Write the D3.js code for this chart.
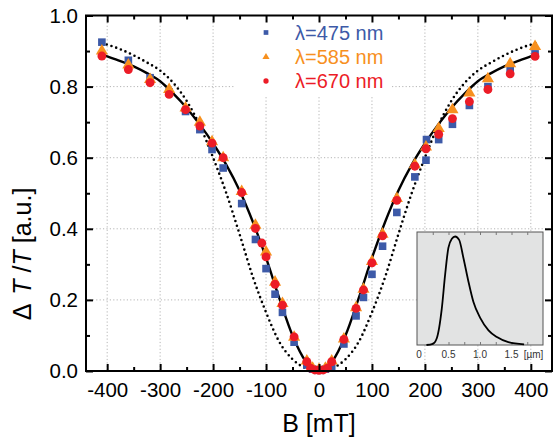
<!DOCTYPE html>
<html><head><meta charset="utf-8">
<script src="https://cdn.jsdelivr.net/npm/d3@7"></script>
<style>body{margin:0;background:#fff}svg{display:block;font-family:"Liberation Sans",Arial,sans-serif}</style>
</head><body><svg id="c" width="559" height="443"></svg>
<script>
// ---- data ----
const xTicks = [-400,-300,-200,-100,0,100,200,300,400];
const yTicks = [0.0,0.2,0.4,0.6,0.8,1.0];
const seriesNames = ["λ=475 nm","λ=585 nm","λ=670 nm"];
const B475 = [-410,-360,-319,-283,-252,-225,-202,-181,-146,-120,-100,-83,-69,-47,-23,-12,0,12,24,47,70,84,100,120,147,181,202,203,226,252,284,319,361,408];
const V475 = [0.925,0.874,0.825,0.785,0.730,0.679,0.623,0.571,0.471,0.370,0.288,0.216,0.165,0.081,0.017,0.005,0.002,0.005,0.012,0.076,0.155,0.207,0.272,0.351,0.446,0.546,0.593,0.651,0.651,0.694,0.747,0.800,0.846,0.892];
const B585 = [-410,-360,-319,-283,-252,-225,-202,-181,-146,-120,-100,-83,-69,-47,-23,-12,0,12,24,47,70,84,100,120,147,181,202,226,252,284,319,361,408];
const V585 = [0.900,0.861,0.820,0.792,0.740,0.700,0.645,0.600,0.505,0.410,0.335,0.250,0.190,0.095,0.028,0.008,0.004,0.008,0.028,0.090,0.178,0.230,0.308,0.385,0.485,0.580,0.630,0.682,0.735,0.782,0.822,0.864,0.913];
const B670 = [-410,-360,-319,-283,-252,-225,-202,-181,-146,-120,-108,-100,-83,-69,-47,-23,-16,-8,0,8,16,24,47,70,84,100,120,147,181,202,226,252,284,319,361,408];
const V670 = [0.886,0.848,0.811,0.778,0.735,0.689,0.641,0.600,0.502,0.401,0.360,0.321,0.244,0.185,0.096,0.026,0.008,0.003,0.002,0.003,0.008,0.026,0.089,0.176,0.228,0.304,0.380,0.480,0.576,0.625,0.666,0.710,0.758,0.792,0.836,0.885];
const curveB = [-410,-400,-375,-350,-325,-300,-275,-250,-225,-200,-175,-150,-125,-100,-75,-50,-25,0,25,50,75,100,125,150,175,200,225,250,275,300,325,350,375,400,410];
const solidV = [0.890,0.885,0.872,0.857,0.838,0.815,0.780,0.740,0.693,0.640,0.580,0.508,0.420,0.318,0.205,0.100,0.027,0,0.027,0.100,0.205,0.318,0.420,0.508,0.580,0.640,0.693,0.740,0.780,0.815,0.838,0.857,0.872,0.885,0.890];
const dottedV = [0.922,0.918,0.905,0.888,0.868,0.845,0.810,0.760,0.690,0.600,0.500,0.385,0.265,0.165,0.082,0.033,0.008,0,0.008,0.033,0.082,0.165,0.265,0.385,0.500,0.600,0.690,0.760,0.810,0.845,0.868,0.888,0.905,0.918,0.922];
const insetX = [0.15,0.25,0.314,0.393,0.446,0.498,0.553,0.605,0.669,0.737,0.817,0.896,1.003,1.135,1.269,1.45,1.7];
const insetY = [0,0.01,0.06,0.32,0.62,0.86,0.94,0.96,0.93,0.77,0.56,0.38,0.24,0.13,0.07,0.025,0.006];
const insetTickLabels = ["0","0.5","1.0","1.5"];
const insetTickVals = [0,0.5,1.0,1.5];

const colors = ["#3d5aa8","#f7901e","#ec1c27"];

// ---- chart ----
const svg = d3.select("#c");
const L=86, R=552, T=15.5, Bt=371;
const x = d3.scaleLinear().domain([-440,440]).range([L,R]);
const y = d3.scaleLinear().domain([0,1]).range([Bt,T]);

// grid
const grid = svg.append("g").attr("stroke","#b5b5b5").attr("stroke-width",1).attr("stroke-dasharray","1.2,2.2");
xTicks.forEach(t=>grid.append("line").attr("x1",x(t)).attr("x2",x(t)).attr("y1",T).attr("y2",Bt));
[0.2,0.4,0.6,0.8].forEach(t=>grid.append("line").attr("x1",L).attr("x2",R).attr("y1",y(t)).attr("y2",y(t)));

// legend background
svg.append("rect").attr("x",235).attr("y",T+1).attr("width",155).attr("height",80).attr("fill","#fff");

// inset
const ix = d3.scaleLinear().domain([0,2]).range([417,543]);
const iy = d3.scaleLinear().domain([0,1]).range([345,232]);
svg.append("rect").attr("x",417).attr("y",232).attr("width",126).attr("height",113).attr("fill","#e2e3e3").attr("stroke","#555").attr("stroke-width",1);
const iTop = d3.axisTop(ix).tickValues([0.25,0.5,0.75,1.0,1.25,1.5,1.75]).tickSizeInner(-3).tickSizeOuter(0).tickFormat("");
svg.append("g").attr("transform","translate(0,232)").call(iTop).call(g=>{g.select(".domain").remove();g.selectAll("line").attr("stroke","#777");});
const iBot = d3.axisBottom(ix).tickValues([0.25,0.5,0.75,1.0,1.25,1.5,1.75]).tickSizeInner(-3).tickSizeOuter(0).tickFormat("");
svg.append("g").attr("transform","translate(0,345)").call(iBot).call(g=>{g.select(".domain").remove();g.selectAll("line").attr("stroke","#777");});
svg.append("g").selectAll("text").data(insetTickVals).join("text")
  .attr("x",d=>ix(d)+ (d===0?2:0)).attr("y",358).attr("text-anchor","middle").attr("font-size",10).attr("fill","#333").text((d,i)=>insetTickLabels[i]);
svg.append("text").attr("x",ix(1.85)).attr("y",358).attr("text-anchor","middle").attr("font-size",10).attr("fill","#333").text("[µm]");
svg.append("path").datum(insetX.map((d,i)=>[d,insetY[i]]))
  .attr("d",d3.line().x(d=>ix(d[0])).y(d=>iy(d[1])).curve(d3.curveMonotoneX))
  .attr("fill","none").attr("stroke","#000").attr("stroke-width",1.8);

// curves
const line = d3.line().x(d=>x(d[0])).y(d=>y(d[1])).curve(d3.curveMonotoneX);
svg.append("path").datum(curveB.map((b,i)=>[b,dottedV[i]])).attr("d",line)
  .attr("fill","none").attr("stroke","#000").attr("stroke-width",2.6).attr("stroke-linecap","round").attr("stroke-dasharray","0,5");
svg.append("path").datum(curveB.map((b,i)=>[b,solidV[i]])).attr("d",line)
  .attr("fill","none").attr("stroke","#000").attr("stroke-width",2.4);

// points
const sq = d3.symbol().type(d3.symbolSquare).size(58);
const tri = d3.symbol().type(d3.symbolTriangle).size(64);
const cir = d3.symbol().type(d3.symbolCircle).size(62);
svg.append("g").selectAll("path").data(B475.map((b,i)=>[b,V475[i]])).join("path")
  .attr("transform",d=>`translate(${x(d[0])},${y(d[1])})`).attr("d",sq).attr("fill",colors[0]);
svg.append("g").selectAll("path").data(B585.map((b,i)=>[b,V585[i]])).join("path")
  .attr("transform",d=>`translate(${x(d[0])},${y(d[1])})`).attr("d",tri).attr("fill",colors[1]);
svg.append("g").selectAll("path").data(B670.map((b,i)=>[b,V670[i]])).join("path")
  .attr("transform",d=>`translate(${x(d[0])},${y(d[1])})`).attr("d",cir).attr("fill",colors[2]);

// legend
const legY=[32.5,57,81];
const legSyms=[d3.symbol().type(d3.symbolSquare).size(22),d3.symbol().type(d3.symbolTriangle).size(22),d3.symbol().type(d3.symbolCircle).size(22)];
seriesNames.forEach((n,i)=>{
  svg.append("path").attr("transform",`translate(266,${legY[i]})`).attr("d",legSyms[i]).attr("fill",colors[i]);
  svg.append("text").attr("x",295).attr("y",legY[i]+7).attr("font-size",20).attr("fill",colors[i]).text(n);
});

// axes
const minorX = d3.range(-400,401,50).filter(v=>v%100!==0);
const minorY = [0.1,0.3,0.5,0.7,0.9];
const fmtX = d => String(d);
function styleAx(g){g.select(".domain").remove();g.selectAll("line").attr("stroke","#000").attr("stroke-width",2);}
svg.append("g").attr("transform",`translate(0,${Bt})`).call(d3.axisBottom(x).tickValues(xTicks).tickSizeInner(-7).tickSizeOuter(0).tickPadding(11).tickFormat(fmtX))
  .call(styleAx).call(g=>g.selectAll("text").attr("font-size",20.5).attr("fill","#000").attr("font-family","Liberation Sans, Arial"));
svg.append("g").attr("transform",`translate(0,${Bt})`).call(d3.axisBottom(x).tickValues(minorX).tickSizeInner(-4).tickSizeOuter(0).tickFormat("")).call(styleAx);
svg.append("g").attr("transform",`translate(0,${T})`).call(d3.axisTop(x).tickValues(xTicks).tickSizeInner(-7).tickSizeOuter(0).tickFormat("")).call(styleAx);
svg.append("g").attr("transform",`translate(0,${T})`).call(d3.axisTop(x).tickValues(minorX).tickSizeInner(-4).tickSizeOuter(0).tickFormat("")).call(styleAx);
svg.append("g").attr("transform",`translate(${L},0)`).call(d3.axisLeft(y).tickValues(yTicks).tickSizeInner(-7).tickSizeOuter(0).tickPadding(8).tickFormat(d3.format(".1f")))
  .call(styleAx).call(g=>g.selectAll("text").attr("font-size",20.5).attr("fill","#000").attr("font-family","Liberation Sans, Arial"));
svg.append("g").attr("transform",`translate(${L},0)`).call(d3.axisLeft(y).tickValues(minorY).tickSizeInner(-4).tickSizeOuter(0).tickFormat("")).call(styleAx);
svg.append("g").attr("transform",`translate(${R},0)`).call(d3.axisRight(y).tickValues(yTicks).tickSizeInner(-7).tickSizeOuter(0).tickFormat("")).call(styleAx);
svg.append("g").attr("transform",`translate(${R},0)`).call(d3.axisRight(y).tickValues(minorY).tickSizeInner(-4).tickSizeOuter(0).tickFormat("")).call(styleAx);
svg.append("rect").attr("x",L).attr("y",T).attr("width",R-L).attr("height",Bt-T).attr("fill","none").attr("stroke","#000").attr("stroke-width",2);

// titles
svg.append("text").attr("x",319).attr("y",432).attr("text-anchor","middle").attr("font-size",25).text("B [mT]");
const yt = svg.append("text").attr("transform","translate(31,254) rotate(-90)").attr("text-anchor","middle").attr("font-size",25);
yt.append("tspan").text("Δ");
yt.append("tspan").attr("font-style","italic").attr("dx",9).text("T");
yt.append("tspan").text(" /");
yt.append("tspan").attr("font-style","italic").text("T");
yt.append("tspan").text(" [a.u.]");
</script></body></html>
